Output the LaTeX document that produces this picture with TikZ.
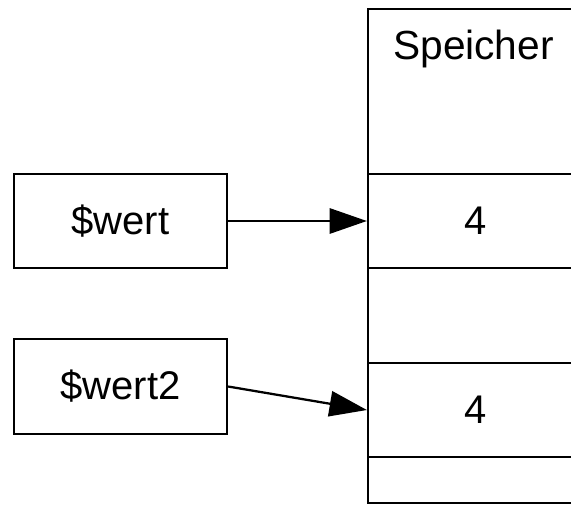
\documentclass[tikz,border=0pt]{standalone}
\usepackage{fontspec}
\setmainfont{Liberation Sans}
\usetikzlibrary{arrows.meta}
\begin{document}
\begin{tikzpicture}[x=0.75pt,y=-0.75pt,
  box/.style={draw, line width=1.7pt, rectangle, inner sep=0pt,
    minimum width=213*0.75pt, font=\fontsize{30}{36}\selectfont},
  cell/.style={draw, line width=1.7pt, rectangle, inner sep=0pt,
    minimum width=216*0.75pt, font=\fontsize{30}{36}\selectfont},
  link/.style={line width=1.7pt, -{Triangle[length=28pt,width=19pt]}}]
  \useasboundingbox (0,0) rectangle (571,504);
  \clip (0,0) rectangle (571,504);
  % variable boxes
  \node[box, minimum height=94*0.75pt] (wert)  at (120.5,221)   {\$wert};
  \node[box, minimum height=95*0.75pt] (wert2) at (120.5,386.5) {\$wert2};
  % memory column
  \node[cell, minimum height=165*0.75pt] (head) at (476,91.5) {};
  \node[anchor=north west, inner sep=0pt, font=\fontsize{30.5}{36}\selectfont]
    (title) at (393,30) {Speicher};
  \node[cell, minimum height=94*0.75pt] (c1) at (476,221)   {4};
  \node[cell, minimum height=95*0.75pt] (c2) at (476,315.5) {};
  \node[cell, minimum height=94*0.75pt] (c3) at (476,410)   {4};
  \node[cell, minimum height=46*0.75pt] (c4) at (476,480)   {};
  % references
  \draw[link] (wert.east) -- (c1.west);
  \draw[link] (wert2.east) -- (c3.west);
\end{tikzpicture}
\end{document}
